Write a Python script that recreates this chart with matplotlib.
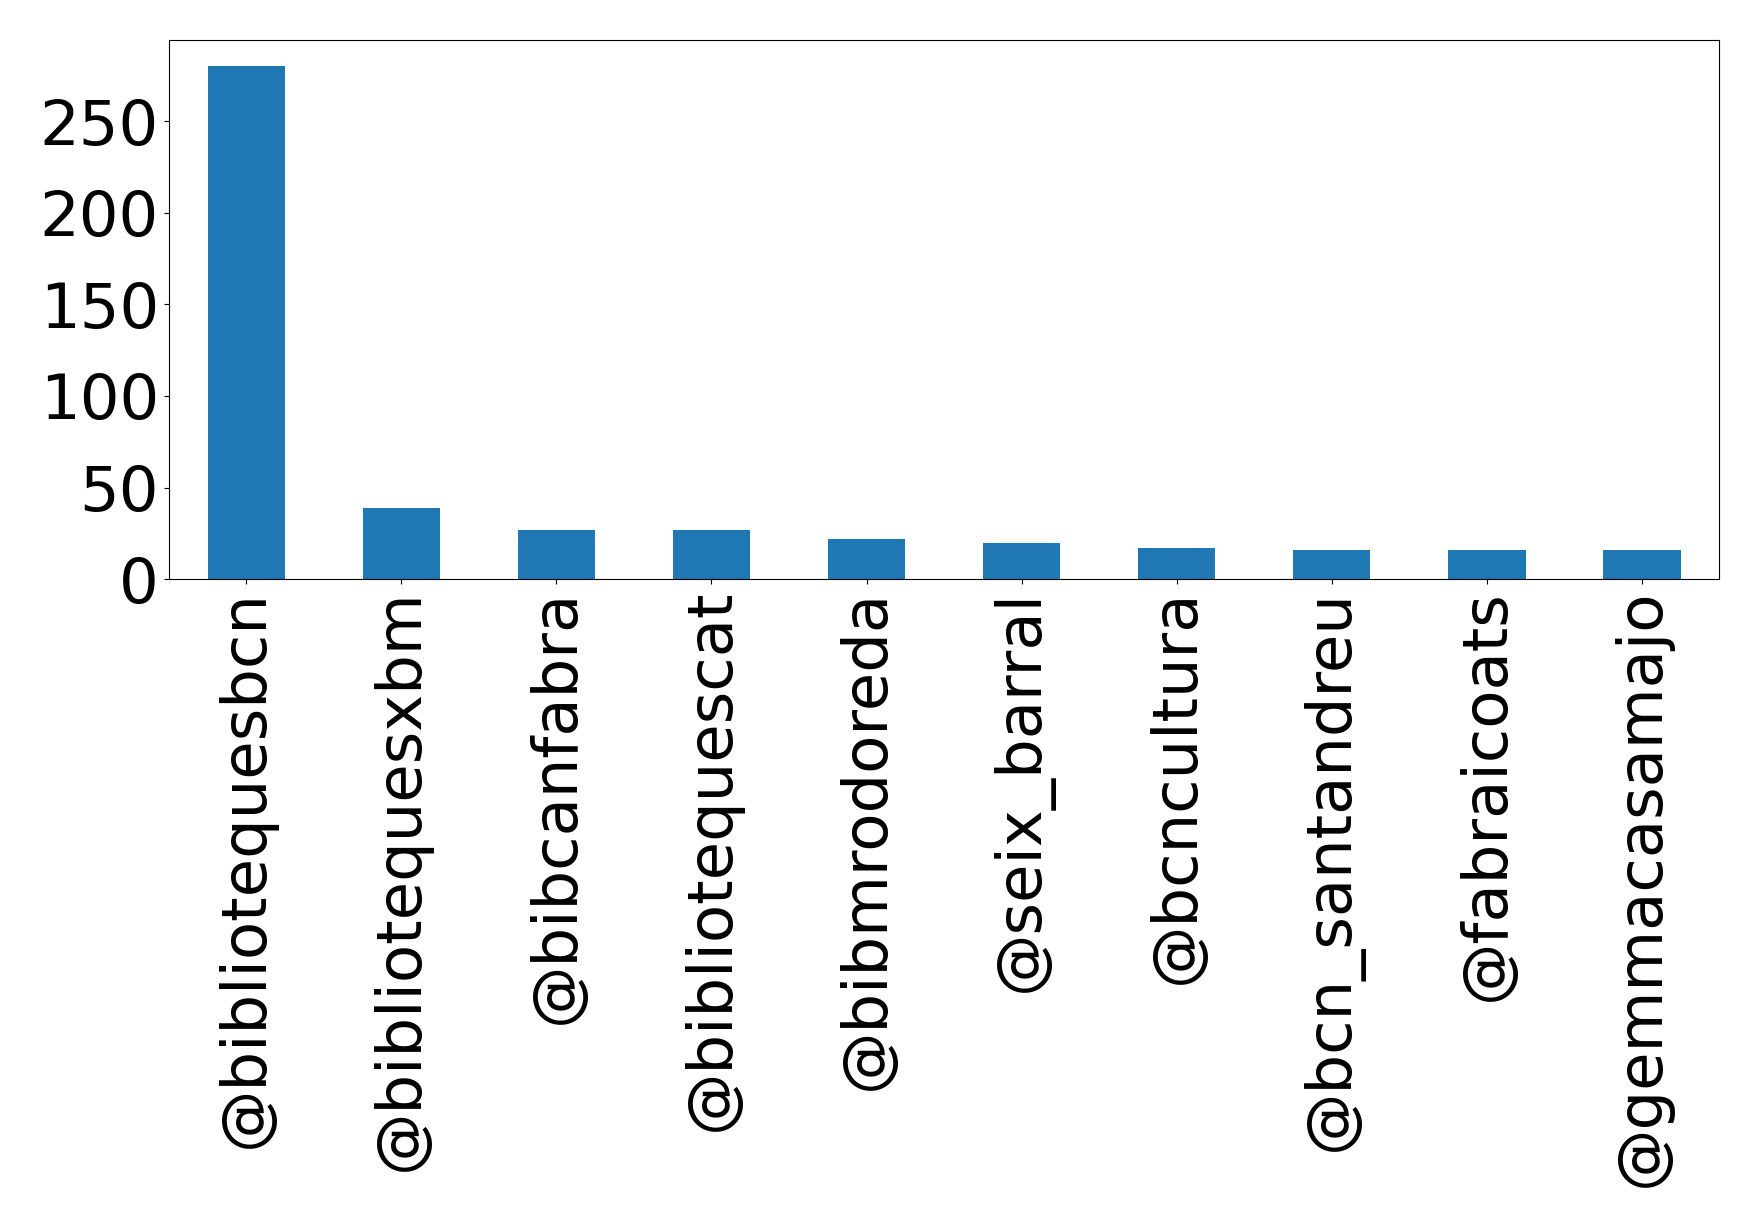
import matplotlib
matplotlib.use("Agg")
import matplotlib.pyplot as plt
import numpy as np

accounts = ["@bibliotequesbcn", "@bibliotequesxbm", "@bibcanfabra", "@bibliotequescat",
            "@bibmrodoreda", "@seix_barral", "@bcncultura", "@bcn_santandreu",
            "@fabraicoats", "@gemmacasamajo"]
mentions = [280, 39, 27, 27, 22, 20, 17, 16, 16, 16]

fig = plt.figure(figsize=(17.58, 12.27), dpi=100)
ax = fig.add_axes([0.096, 0.528, 0.882, 0.439])

x = np.arange(len(accounts))
ax.bar(x, mentions, width=0.5, color="#1f77b4")
ax.set_xlim(-0.5, len(accounts) - 0.5)
ax.set_xticks(x)
ax.set_xticklabels(accounts, rotation=90, fontsize=45)
ax.tick_params(axis="y", labelsize=45)
ax.set_yticks([0, 50, 100, 150, 200, 250])

fig.savefig("out.png", dpi=100)
